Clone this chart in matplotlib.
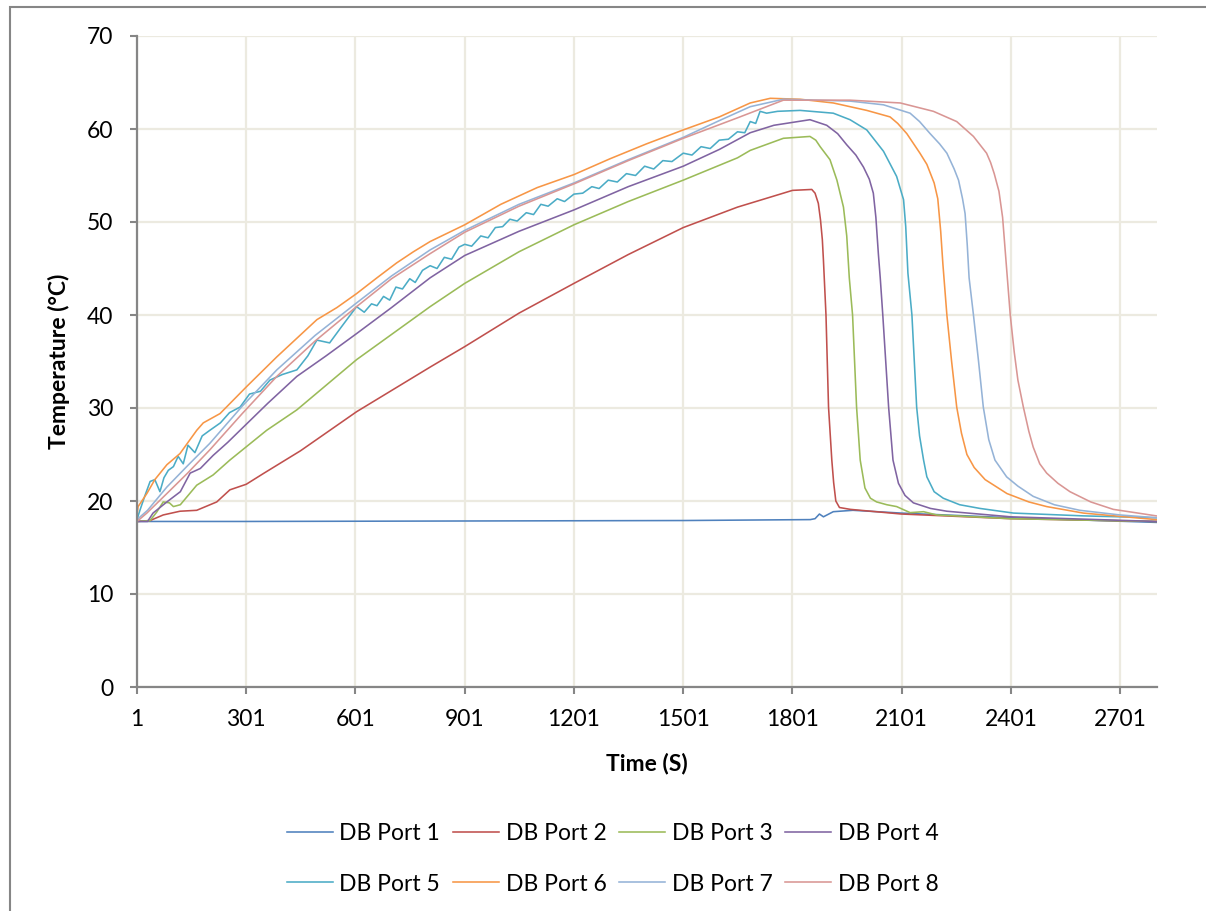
import numpy as np
import matplotlib
matplotlib.use("Agg")
import matplotlib.pyplot as plt
from matplotlib.patches import Rectangle

plt.rcParams['font.family'] = ['Lato', 'DejaVu Sans']

# values (time in s, temperature in degC)
p1_x = [1, 300, 900, 1500, 1850, 1863, 1875, 1886, 1913, 1967, 2100, 2400, 2800]
p1_y = [17.8, 17.8, 17.85, 17.9, 18.0, 18.1, 18.6, 18.3, 18.85, 19.0, 18.7, 18.2, 17.7]

p2_x = [1, 37, 73, 119, 165, 220, 256, 301, 350, 450, 604, 806, 901, 1050, 1201, 1350,
        1501, 1650, 1801, 1854, 1863, 1872, 1878, 1883, 1886, 1893, 1900, 1909, 1914,
        1920, 1930, 1960, 2100, 2400, 2800]
p2_y = [17.8, 17.9, 18.5, 18.9, 19.0, 19.9, 21.2, 21.8, 23.0, 25.4, 29.6, 34.4, 36.6,
        40.2, 43.4, 46.5, 49.4, 51.6, 53.4, 53.5, 53.1, 52.0, 50.2, 48.1, 45.9, 40.0,
        30.1, 24.4, 22.0, 20.0, 19.3, 19.1, 18.6, 18.1, 17.8]

p3_x = [1, 37, 55, 73, 90, 101, 120, 165, 210, 256, 357, 440, 604, 806, 901, 1050,
        1201, 1350, 1501, 1650, 1685, 1776, 1849, 1865, 1877, 1904, 1923, 1941, 1950,
        1957, 1966, 1977, 1987, 2000, 2015, 2032, 2060, 2087, 2124, 2161, 2197, 2400,
        2800]
p3_y = [17.8, 17.9, 18.8, 19.9, 19.8, 19.4, 19.6, 21.7, 22.8, 24.4, 27.6, 29.8, 35.2,
        40.9, 43.4, 46.8, 49.7, 52.2, 54.5, 56.9, 57.7, 59.0, 59.2, 58.8, 58.1, 56.7,
        54.5, 51.6, 48.5, 44.0, 40.0, 30.1, 24.4, 21.4, 20.3, 19.9, 19.6, 19.4, 18.75,
        18.85, 18.5, 18.1, 17.8]

p4_x = [1, 30, 45, 83, 120, 147, 175, 210, 250, 284, 360, 440, 520, 604, 700, 806,
        901, 1050, 1201, 1350, 1501, 1600, 1685, 1750, 1849, 1895, 1925, 1950, 1975,
        1996, 2012, 2023, 2030, 2037, 2042, 2049, 2065, 2077, 2092, 2110, 2133, 2180,
        2225, 2400, 2800]
p4_y = [17.8, 17.8, 18.7, 19.9, 21.0, 23.0, 23.5, 24.9, 26.3, 27.6, 30.5, 33.4, 35.6,
        38.0, 40.8, 44.0, 46.4, 49.0, 51.3, 53.8, 56.0, 57.8, 59.6, 60.4, 61.0, 60.4,
        59.5, 58.3, 57.2, 55.9, 54.6, 53.1, 50.5, 46.5, 44.0, 40.0, 30.1, 24.4, 21.9,
        20.6, 19.8, 19.2, 18.9, 18.3, 17.8]

p5_x = [1, 9, 23, 37, 50, 64, 75, 87, 101, 114, 128, 141, 160, 180, 201, 230, 255,
        284, 310, 340, 366, 400, 440, 470, 495, 530, 560, 604, 625, 645, 660, 678,
        695, 712, 730, 750, 765, 785, 806, 825, 845, 865, 885, 901, 920, 945, 965,
        985, 1005, 1025, 1045, 1070, 1090, 1110, 1130, 1155, 1175, 1201, 1225, 1250,
        1270, 1295, 1320, 1345, 1370, 1395, 1420, 1445, 1470, 1501, 1525, 1550, 1575,
        1600, 1625, 1650, 1670, 1685, 1700, 1712, 1730, 1760, 1822, 1913, 1959, 2005,
        2051, 2087, 2106, 2112, 2118, 2129, 2142, 2150, 2161, 2170, 2190, 2215, 2260,
        2316, 2408, 2600, 2800]
p5_y = [18.0, 19.0, 20.6, 22.1, 22.3, 21.0, 22.5, 23.3, 23.7, 24.8, 24.0, 26.0, 25.2,
        27.0, 27.6, 28.4, 29.5, 30.1, 31.5, 31.8, 33.0, 33.6, 34.1, 35.6, 37.3, 37.0,
        38.6, 40.9, 40.3, 41.2, 41.0, 42.0, 41.6, 43.0, 42.8, 43.9, 43.5, 44.8, 45.3,
        45.0, 46.2, 46.0, 47.3, 47.6, 47.4, 48.5, 48.3, 49.4, 49.5, 50.3, 50.1, 51.0,
        50.8, 51.9, 51.7, 52.5, 52.2, 53.0, 53.1, 53.8, 53.6, 54.5, 54.3, 55.2, 55.0,
        56.0, 55.7, 56.6, 56.5, 57.4, 57.2, 58.1, 57.9, 58.8, 58.9, 59.7, 59.6, 60.8,
        60.6, 61.9, 61.7, 61.9, 62.0, 61.7, 61.0, 59.9, 57.6, 54.9, 52.4, 49.5, 44.5,
        40.0, 30.1, 27.0, 24.4, 22.6, 21.0, 20.3, 19.6, 19.2, 18.7, 18.4, 18.2]

p6_x = [1, 4, 28, 50, 83, 119, 165, 183, 229, 302, 385, 440, 495, 550, 604, 660, 714,
        760, 806, 901, 1000, 1100, 1201, 1300, 1400, 1501, 1600, 1685, 1740, 1822,
        1913, 2005, 2069, 2090, 2115, 2151, 2170, 2190, 2200, 2208, 2214, 2225, 2238,
        2252, 2265, 2280, 2300, 2330, 2390, 2450, 2499, 2600, 2800]
p6_y = [18.5, 19.4, 20.8, 22.3, 23.9, 25.1, 27.6, 28.4, 29.4, 32.3, 35.5, 37.5, 39.5,
        40.8, 42.3, 44.0, 45.6, 46.8, 47.9, 49.7, 51.9, 53.7, 55.1, 56.8, 58.4, 59.9,
        61.3, 62.8, 63.3, 63.2, 62.8, 62.0, 61.3, 60.6, 59.5, 57.4, 56.2, 54.2, 52.5,
        49.0, 45.5, 40.0, 35.0, 30.1, 27.3, 25.0, 23.6, 22.3, 20.8, 19.9, 19.4, 18.7,
        18.0]

p7_x = [1, 30, 83, 140, 201, 290, 385, 490, 604, 700, 806, 901, 1050, 1201, 1350, 1501,
        1600, 1685, 1776, 1959, 2051, 2124, 2150, 2179, 2205, 2225, 2245, 2257, 2268,
        2275, 2281, 2286, 2298, 2312, 2325, 2340, 2357, 2389, 2420, 2462, 2520, 2590,
        2700, 2800]
p7_y = [18.0, 19.0, 21.5, 23.8, 26.2, 30.2, 34.1, 37.8, 41.3, 44.2, 47.0, 49.1, 51.9,
        54.2, 56.7, 59.1, 60.9, 62.4, 63.2, 63.0, 62.6, 61.7, 60.8, 59.5, 58.4, 57.4,
        55.7, 54.5, 52.5, 50.9, 47.5, 44.0, 40.0, 35.0, 30.1, 26.6, 24.4, 22.6, 21.6,
        20.5, 19.6, 19.0, 18.5, 18.2]

p8_x = [1, 28, 83, 140, 201, 290, 385, 490, 604, 700, 806, 901, 1050, 1201, 1350, 1501,
        1650, 1776, 1959, 2097, 2188, 2252, 2298, 2334, 2345, 2355, 2368, 2378, 2386,
        2393, 2399, 2410, 2420, 2435, 2450, 2462, 2480, 2499, 2530, 2563, 2620, 2682,
        2750, 2800]
p8_y = [17.8, 18.7, 20.8, 23.0, 25.5, 29.4, 33.4, 37.2, 40.9, 43.9, 46.6, 48.9, 51.7,
        54.1, 56.6, 59.0, 61.2, 63.1, 63.1, 62.8, 61.9, 60.8, 59.2, 57.4, 56.4, 55.2,
        53.3, 50.5, 46.5, 43.0, 40.0, 36.0, 33.0, 30.1, 27.5, 25.8, 24.0, 23.0, 21.9,
        21.0, 19.9, 19.1, 18.7, 18.4]

series = [(p1_x, p1_y), (p2_x, p2_y), (p3_x, p3_y), (p4_x, p4_y),
          (p5_x, p5_y), (p6_x, p6_y), (p7_x, p7_y), (p8_x, p8_y)]
names = ["DB Port %d" % (i + 1) for i in range(8)]
colors = ['#4F81BD', '#C0504D', '#9BBB59', '#8064A2',
          '#4BACC6', '#F79646', '#95B3D7', '#D99694']

x_ticks = [1, 301, 601, 901, 1201, 1501, 1801, 2101, 2401, 2701]
y_ticks = [0, 10, 20, 30, 40, 50, 60, 70]

fig = plt.figure(figsize=(12.06, 9.11), dpi=100)
ax = fig.add_axes([137/1206, 1 - 687/911, (1157-137)/1206, (687-36)/911])

lines = []
for (xs, ys), name, c in zip(series, names, colors):
    l, = ax.plot(xs, ys, color=c, lw=1.15, label=name)
    lines.append(l)

ax.set_xlim(1, 2802)
ax.set_ylim(0, 70)
ax.set_xticks(x_ticks)
ax.set_yticks(y_ticks)
ax.grid(True, color='#ECEAE0', lw=1.6)
ax.set_axisbelow(True)
for s in ['top', 'right']:
    ax.spines[s].set_visible(False)
for s in ['left', 'bottom']:
    ax.spines[s].set_color('#868686')
    ax.spines[s].set_linewidth(1.6)
ax.tick_params(axis='both', direction='out', length=5, width=1.5,
               color='#868686', labelsize=16.5)
ax.tick_params(axis='y', pad=12)
ax.tick_params(axis='x', pad=11)
ax.set_xlabel("Time (S)", fontsize=16.5, fontweight='bold', labelpad=16)
ax.set_ylabel("Temperature (°C)", fontsize=16.5, fontweight='bold', labelpad=12)

# legend rows filled left to right
order = [0, 4, 1, 5, 2, 6, 3, 7]
fig.legend([lines[i] for i in order], [names[i] for i in order], ncol=4,
           loc='center', bbox_to_anchor=(0.508, 0.0575), frameon=False,
           fontsize=16.5, handlelength=2.0, handletextpad=0.3,
           columnspacing=0.55, labelspacing=1.3)

fig.patches.append(Rectangle((10/1206, -0.1), 1.2, 1 - 7/911 + 0.1,
                             transform=fig.transFigure, fill=False,
                             edgecolor='#868686', lw=1.5))

fig.savefig("out.png", dpi=100)
